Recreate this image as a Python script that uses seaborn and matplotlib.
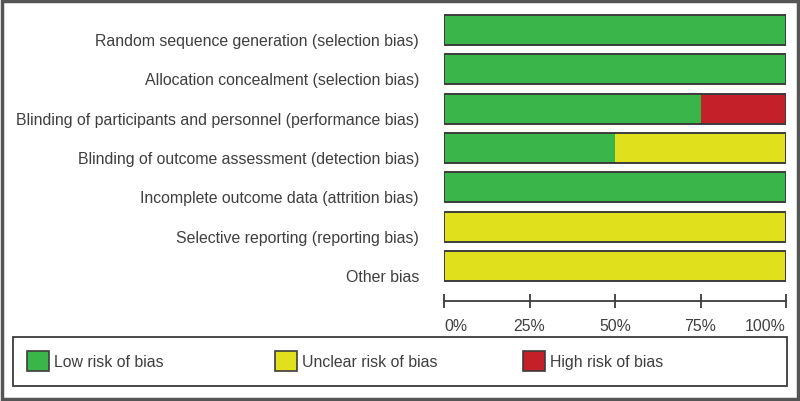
import matplotlib
matplotlib.use("Agg")
import pandas as pd
import seaborn as sns
from matplotlib import pyplot as plt
from matplotlib import transforms
from matplotlib.patches import Patch, Rectangle

# risk of bias summary, percent of studies per judgement
domains = [
    "Random sequence generation (selection bias)",
    "Allocation concealment (selection bias)",
    "Blinding of participants and personnel (performance bias)",
    "Blinding of outcome assessment (detection bias)",
    "Incomplete outcome data (attrition bias)",
    "Selective reporting (reporting bias)",
    "Other bias",
]
low = [100, 100, 75, 50, 100, 0, 0]
unclear = [0, 0, 0, 50, 0, 100, 100]
high = [0, 0, 25, 0, 0, 0, 0]
ticks = [0, 25, 50, 75, 100]
tick_labels = ["0%", "25%", "50%", "75%", "100%"]
legend_labels = ["Low risk of bias", "Unclear risk of bias", "High risk of bias"]

GREEN = "#39b54a"
YELLOW = "#e1e01d"
RED = "#c3202a"
EDGE = "#3c3c3c"
TEXT = "#3f3f3f"

sns.set_style("white")
plt.rcParams["font.family"] = ["Liberation Sans", "DejaVu Sans"]

df = pd.DataFrame({"domain": domains, "low": low, "unclear": unclear, "high": high})
df["low_unclear"] = df["low"] + df["unclear"]
df["total"] = df["low_unclear"] + df["high"]

W, H = 800, 402
fig = plt.figure(figsize=(W / 100, H / 100), dpi=100)
ax = fig.add_axes([444 / W, 1 - 286.6 / H, 342 / W, 275.3 / H])

# stacked bars: draw cumulative totals back to front
for col, c in [("total", RED), ("low_unclear", YELLOW), ("low", GREEN)]:
    sns.barplot(data=df, x=col, y="domain", color=c, saturation=1, width=0.76,
                linewidth=0, errorbar=None, ax=ax)
sns.barplot(data=df, x="total", y="domain", fill=False, edgecolor=EDGE, width=0.76,
            linewidth=1.4, errorbar=None, ax=ax)

ax.set_xlim(0, 100)
ax.set_ylim(6.5, -0.5)
ax.set_xlabel("")
ax.set_ylabel("")
for s in ["top", "right", "left"]:
    ax.spines[s].set_visible(False)
ax.spines["bottom"].set_position(("outward", 11))
ax.spines["bottom"].set_color(EDGE)
ax.spines["bottom"].set_linewidth(1.3)

ax.set_xticks(ticks)
ax.set_xticklabels(tick_labels)
ax.tick_params(axis="x", bottom=True, direction="inout", length=9.5, width=1.3, color=EDGE,
               labelsize=11.4, labelcolor=TEXT, pad=7.5)
labs = ax.get_xticklabels()
labs[0].set_ha("left")
labs[-1].set_ha("right")

ax.tick_params(axis="y", left=False, length=0, pad=18, labelsize=11.4, labelcolor=TEXT)
shift = transforms.ScaledTranslation(0, -9 / 100, fig.dpi_scale_trans)
for lab in ax.get_yticklabels():
    lab.set_transform(lab.get_transform() + shift)

# legend box and entries
fig.patches.append(Rectangle((13 / W, 15 / H), 774 / W, 49 / H, transform=fig.transFigure,
                             fill=False, edgecolor=EDGE, linewidth=1.3))
for x0, c, lbl in zip([27, 275, 523], [GREEN, YELLOW, RED], legend_labels):
    fig.legend(handles=[Patch(facecolor=c, edgecolor=EDGE, linewidth=1.2, label=lbl)],
               loc="center left", bbox_to_anchor=(x0 / W, 1 - 362 / H), frameon=False,
               handlelength=1.4, handleheight=1.65, handletextpad=0.3, borderpad=0,
               borderaxespad=0, fontsize=11.4, labelcolor=TEXT)

# outer frame
fig.patches.append(Rectangle((2 / W, 2 / H), 796 / W, 398 / H, transform=fig.transFigure,
                             fill=False, edgecolor="#555555", linewidth=2.5))

fig.savefig("out.png", dpi=100)
